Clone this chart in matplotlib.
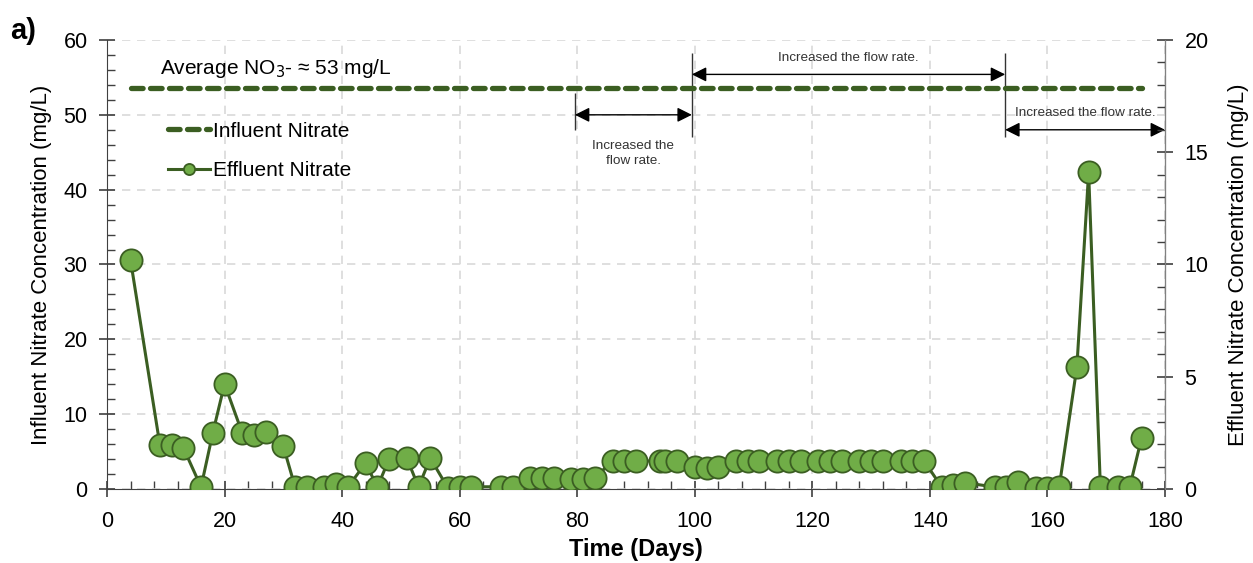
import matplotlib.pyplot as plt
from matplotlib.ticker import MultipleLocator

plt.rcParams['font.family'] = ['Liberation Sans', 'DejaVu Sans']

# Influent nitrate (left axis, mg/L)
influent_days = [4, 176]
influent = [53.6, 53.6]

# Effluent nitrate (right axis, mg/L)
effluent_days = [4, 9, 11, 13, 16, 18, 20, 23, 25, 27, 30, 32, 34, 37, 39, 41,
                 44, 46, 48, 51, 53, 55, 58, 60, 62, 67, 69, 72, 74, 76, 79, 81,
                 83, 86, 88, 90, 94, 95, 97, 100, 102, 104, 107, 109, 111, 114,
                 116, 118, 121, 123, 125, 128, 130, 132, 135, 137, 139, 142, 144,
                 146, 151, 153, 155, 158, 160, 162, 165, 167, 169, 172, 174, 176]
effluent = [10.2, 1.96, 1.96, 1.83, 0.09, 2.5, 4.68, 2.5, 2.4, 2.54, 1.9, 0.09,
            0.09, 0.09, 0.22, 0.09, 1.16, 0.09, 1.34, 1.38, 0.09, 1.38, 0.04,
            0.09, 0.1, 0.1, 0.08, 0.5, 0.5, 0.5, 0.45, 0.45, 0.5, 1.25, 1.25,
            1.25, 1.25, 1.25, 1.25, 0.98, 0.94, 0.98, 1.25, 1.25, 1.25, 1.25,
            1.25, 1.25, 1.25, 1.25, 1.25, 1.25, 1.25, 1.25, 1.25, 1.25, 1.25,
            0.09, 0.18, 0.28, 0.09, 0.09, 0.3, 0.05, 0.05, 0.1, 5.43, 14.1,
            0.09, 0.08, 0.09, 2.27]

# flow-rate change periods: (start day, end day, arrow height on left axis)
flow_periods = [(79.6, 99.5, 50.0), (99.5, 152.8, 55.4), (152.8, 180, 48.0)]
flow_labels = ['Increased the\nflow rate.', 'Increased the flow rate.',
               'Increased the flow rate.']

dark_green = '#3b5e22'
light_green = '#70ad47'

fig, ax = plt.subplots(figsize=(12.53, 5.63), dpi=100)
fig.subplots_adjust(left=0.0854, right=0.9298, bottom=0.1314, top=0.929)
ax2 = ax.twinx()

ax.plot(influent_days, influent, ls=(0, (2.2, 1.4)), lw=3.8, color=dark_green,
        dash_capstyle='round', label='Influent Nitrate', zorder=3)
ax2.plot(effluent_days, effluent, '-o', lw=2.2, color=dark_green, ms=16,
         mfc=light_green, mec=dark_green, mew=1.3, label='Effluent Nitrate',
         zorder=3)

ax.set_xlim(0, 180)
ax.set_ylim(0, 60)
ax2.set_ylim(0, 20)
ax.xaxis.set_major_locator(MultipleLocator(20))
ax.xaxis.set_minor_locator(MultipleLocator(4))
ax.yaxis.set_major_locator(MultipleLocator(10))
ax.yaxis.set_minor_locator(MultipleLocator(2))
ax2.yaxis.set_major_locator(MultipleLocator(5))
ax2.yaxis.set_minor_locator(MultipleLocator(1))

ax.grid(True, which='major', ls=(0, (5, 4)), color='#d9d9d9', lw=1.2)
ax.set_axisbelow(True)
for a in (ax, ax2):
    a.spines['top'].set_visible(False)
    a.tick_params(which='major', direction='inout', length=12, width=1.2,
                  colors='#404040', labelsize=15.5, labelcolor='black')
    a.tick_params(which='minor', direction='in', length=6, width=1,
                  colors='#404040')
ax.spines['left'].set_color('#404040')
ax.spines['bottom'].set_color('#404040')
ax2.spines['right'].set_color('#808080')
ax2.spines['left'].set_visible(False)
ax2.spines['bottom'].set_visible(False)
ax.tick_params(axis='x', pad=10)
ax.tick_params(axis='y', pad=8)
ax2.tick_params(axis='y', pad=8)

ax.set_xlabel('Time (Days)', fontsize=17, fontweight='bold', labelpad=4)
ax.set_ylabel('Influent Nitrate Concentration (mg/L)', fontsize=16, labelpad=8)
ax2.set_ylabel('Effluent Nitrate Concentration (mg/L)', fontsize=16,
               rotation=90, labelpad=14)

ax.text(9, 56.2, 'Average NO$_3$- \u2248 53 mg/L', fontsize=15, va='center')

# flow-rate arrows
for (x0, x1, y), lab in zip(flow_periods, flow_labels):
    ax.annotate('', xy=(x1, y), xytext=(x0, y),
                arrowprops=dict(arrowstyle='<|-|>', color='black', lw=1,
                                mutation_scale=22, shrinkA=0, shrinkB=0),
                annotation_clip=False)
    if '\n' in lab:
        ax.text((x0 + x1) / 2, y - 3.4, lab, fontsize=9.7, ha='center',
                va='top', color='#333333', linespacing=1.3)
    else:
        ax.text((x0 + x1) / 2, y + 1.4, lab, fontsize=9.7, ha='center',
                va='bottom', color='#333333')

# boundary markers for the flow-rate periods
ax.vlines(79.6, 48.0, 52.9, color='#333333', lw=1)
ax.vlines(99.5, 47.0, 58.3, color='#333333', lw=1)
ax.vlines(152.8, 47.0, 58.3, color='#333333', lw=1)

h1, l1 = ax.get_legend_handles_labels()
h2, l2 = ax2.get_legend_handles_labels()
leg = ax.legend(h1 + h2, l1 + l2, loc='upper left', bbox_to_anchor=(0.04, 0.86),
                frameon=False, fontsize=15, handlelength=2.0, handletextpad=0.15,
                labelspacing=1.0, markerscale=0.5)

fig.text(0.008, 0.93, 'a)', fontsize=21, fontweight='bold')

plt.savefig('out.png', dpi=100)
